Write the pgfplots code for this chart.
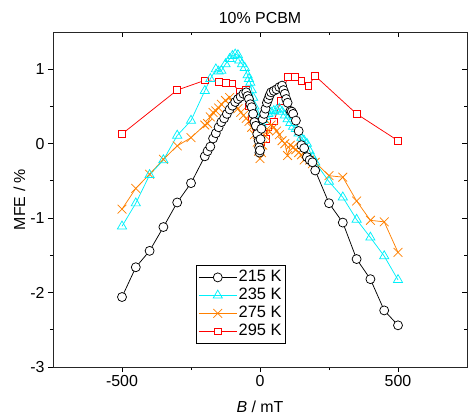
\documentclass[border=0pt]{standalone}
\usepackage{fontspec}
\setmainfont{Liberation Sans}
\usepackage{pgfplots}
\pgfplotsset{compat=1.18}
\definecolor{ccyan}{RGB}{0,240,250}
\definecolor{corange}{RGB}{255,128,0}
\definecolor{cred}{RGB}{255,0,0}

\pgfplotstableread{
B MFE
-500 -2.06
-450 -1.66
-400 -1.44
-350 -1.12
-300 -0.79
-250 -0.53
-200 -0.17
-190 -0.10
-180 -0.04
-170 0.07
-160 0.14
-150 0.22
-140 0.29
-130 0.34
-120 0.40
-110 0.46
-100 0.51
-90 0.56
-80 0.60
-70 0.63
-60 0.67
-50 0.69
-45 0.64
-40 0.60
-35 0.53
-30 0.49
-25 0.40
-20 0.29
-15 0.24
-10 0.13
-5 0.04
-3 -0.05
-2 -0.12
0 -0.09
2 0.06
5 0.20
10 0.33
15 0.40
20 0.47
25 0.55
30 0.60
35 0.65
40 0.69
50 0.71
60 0.73
70 0.76
80 0.78
85 0.72
90 0.67
95 0.60
100 0.55
110 0.44
115 0.43
120 0.40
130 0.31
140 0.17
150 -0.02
160 -0.06
170 -0.18
180 -0.22
190 -0.25
200 -0.36
250 -0.80
300 -1.06
350 -1.55
400 -1.82
450 -2.24
500 -2.44
}\dataA

\pgfplotstableread{
B MFE
-500 -1.11
-450 -0.80
-400 -0.42
-350 -0.22
-300 0.11
-250 0.31
-200 0.71
-180 0.87
-160 1.00
-150 0.97
-140 0.98
-125 1.07
-110 1.14
-100 1.18
-90 1.20
-80 1.19
-75 1.12
-65 1.07
-55 1.02
-45 0.92
-40 0.87
-35 0.82
-30 0.72
-25 0.62
-20 0.50
-15 0.42
-10 0.35
-5 0.28
0 0.30
5 0.27
10 0.32
20 0.36
30 0.40
40 0.42
50 0.44
60 0.45
70 0.47
80 0.43
90 0.38
100 0.33
110 0.28
120 0.23
130 0.20
140 0.14
150 0.08
160 0.04
170 0.00
180 -0.10
190 -0.18
200 -0.25
250 -0.51
300 -0.72
350 -1.02
400 -1.26
450 -1.51
500 -1.83
}\dataB

\pgfplotstableread{
B MFE
-500 -0.88
-450 -0.60
-400 -0.41
-350 -0.21
-300 -0.03
-250 0.08
-200 0.25
-190 0.27
-180 0.36
-170 0.42
-160 0.44
-150 0.48
-140 0.53
-125 0.58
-110 0.62
-100 0.56
-90 0.52
-80 0.47
-70 0.42
-60 0.38
-50 0.34
-40 0.30
-30 0.22
-20 0.12
-10 0.02
-5 -0.10
0 -0.20
5 -0.12
10 -0.02
20 0.10
30 0.18
40 0.25
50 0.22
60 0.17
70 0.12
80 0.04
90 0.00
100 -0.16
110 -0.02
120 -0.05
130 -0.08
140 -0.12
150 -0.15
160 -0.22
170 -0.18
180 -0.22
190 -0.27
200 -0.25
250 -0.43
300 -0.45
350 -0.77
400 -1.03
450 -1.05
500 -1.46
}\dataC

\pgfplotstableread{
B MFE
-500 0.13
-300 0.72
-200 0.85
-150 0.83
-125 0.82
-100 0.81
-75 0.70
-50 0.72
-40 0.50
-30 0.33
-20 0.29
-10 0.15
0 -0.09
5 0.02
10 0.13
20 0.06
30 0.22
50 0.30
75 0.57
100 0.90
125 0.90
150 0.84
175 0.78
200 0.91
350 0.40
500 0.04
}\dataD

\begin{document}
\begin{tikzpicture}
\path[use as bounding box] (-53bp,-52bp) rectangle (415bp,367bp);
\begin{axis}[
  scale only axis, width=414bp, height=335bp,
  at={(0,0)}, anchor=south west,
  xmin=-750, xmax=750, ymin=-3, ymax=1.5,
  xtick={-500,0,500}, minor xtick={-250,250},
  ytick={-3,-2,-1,0,1}, minor ytick={-2.5,-1.5,-0.5,0.5},
  tick align=outside, xtick pos=left, ytick pos=left,
  major tick length=5bp, minor tick length=3bp,
  tick style={line width=0.8pt, black},
  axis line style={line width=0.8pt, black!85},
  /pgf/number format/assume math mode=true,
  ticklabel style={font=\fontsize{16}{16}\selectfont},
  title={10\% PCBM},
  title style={font=\fontsize{16}{16}\selectfont, at={(axis description cs:0.5,1.009)}, anchor=base},
  xlabel={\textit{B} / mT},
  xlabel style={font=\fontsize{16}{16}\selectfont, at={(axis description cs:0.5,-0.1373)}, anchor=base},
  ylabel={MFE / \%},
  ylabel style={font=\fontsize{16}{16}\selectfont, at={(axis description cs:-0.0676,0.5)}, anchor=base},
  reverse legend,
  legend cell align=left,
  legend image code/.code={\draw[mark repeat=2,mark phase=2,#1] plot coordinates {(0bp,0bp) (19bp,0bp) (38bp,0bp)};},
  legend style={at={(axis description cs:0.3454,0.3045)}, anchor=north west,
    draw=black, line width=0.8pt, inner xsep=2bp, inner ysep=3bp,
    font=\fontsize{16.5}{16.5}\selectfont,
    nodes={inner sep=1.5bp, text height=11.5bp, text depth=3.5bp},
    /tikz/every even column/.style={column sep=1.5bp}},
]
\addplot[cred, line width=0.75pt, mark=square*, mark size=3.4bp, mark options={fill=white, draw=cred, solid}] table[x=B,y=MFE] {\dataD};
\addlegendentry{295 K}
\addplot[corange, line width=0.75pt, mark=x, mark size=6.2bp, mark options={solid}] table[x=B,y=MFE] {\dataC};
\addlegendentry{275 K}
\addplot[ccyan, line width=0.75pt, mark=triangle, mark size=5.3bp, mark options={solid}] table[x=B,y=MFE] {\dataB};
\addlegendentry{235 K}
\addplot[black, line width=0.75pt, mark=*, mark size=4.5bp, mark options={fill=white, draw=black, solid}] table[x=B,y=MFE] {\dataA};
\addlegendentry{215 K}
\end{axis}
\begin{axis}[
  scale only axis, width=414bp, height=335bp,
  at={(0,0)}, anchor=south west,
  xmin=-750, xmax=750, ymin=-3, ymax=1.5,
  xtick={-500,0,500}, minor xtick={-250,250},
  ytick={-3,-2,-1,0,1}, minor ytick={-2.5,-1.5,-0.5,0.5},
  tick align=inside, xtick pos=right, ytick pos=right,
  major tick length=5bp, minor tick length=3bp,
  tick style={line width=0.8pt, black},
  axis line style={line width=0.8pt, black!85},
  xticklabels={}, yticklabels={},
]
\end{axis}
\end{tikzpicture}
\end{document}
